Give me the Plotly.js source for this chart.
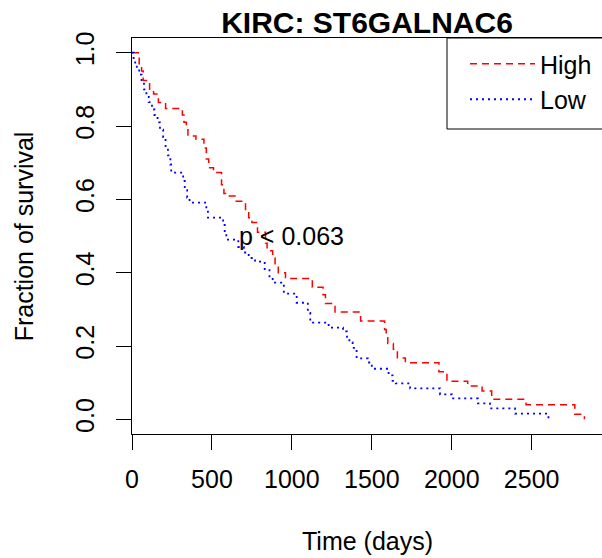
<!DOCTYPE html>
<html>
<head>
<meta charset="utf-8">
<script src="https://cdn.plot.ly/plotly-3.0.1.min.js"></script>
<style>
  html, body { margin: 0; padding: 0; background: #fff; }
  #chart { width: 602px; height: 558px; }
</style>
</head>
<body>
<div id="chart"></div>
<script>
// Kaplan-Meier step data (time in days, fraction surviving)
const highTime = [0, 45, 60, 70, 110, 135, 165, 210, 315, 325, 340, 350, 400, 450, 465, 480, 510, 560, 575, 595, 645, 710, 730, 750, 785, 835, 845, 880, 895, 915, 960, 1128, 1195, 1210, 1270, 1430, 1580, 1590, 1600, 1635, 1660, 1710, 1920, 1970, 2100, 2190, 2250, 2465, 2770, 2830];
const highSurv = [1.0, 0.97, 0.95, 0.924, 0.90, 0.887, 0.864, 0.848, 0.83, 0.81, 0.79, 0.773, 0.764, 0.74, 0.71, 0.686, 0.673, 0.64, 0.616, 0.609, 0.595, 0.57, 0.55, 0.537, 0.51, 0.48, 0.46, 0.44, 0.42, 0.40, 0.384, 0.36, 0.34, 0.316, 0.293, 0.268, 0.245, 0.225, 0.207, 0.191, 0.167, 0.1545, 0.13, 0.104, 0.091, 0.077, 0.0545, 0.04, 0.0136, 0.0];

const lowTime = [0, 10, 20, 30, 45, 60, 75, 90, 105, 125, 140, 160, 175, 195, 210, 225, 240, 245, 320, 330, 345, 360, 465, 475, 570, 580, 590, 665, 700, 730, 770, 830, 860, 880, 950, 1030, 1100, 1115, 1230, 1320, 1345, 1360, 1380, 1405, 1475, 1500, 1605, 1630, 1650, 1740, 1927, 2002, 2164, 2239, 2396, 2605];
const lowSurv = [1.0, 0.985, 0.97, 0.955, 0.94, 0.92, 0.90, 0.885, 0.865, 0.845, 0.83, 0.81, 0.79, 0.77, 0.745, 0.72, 0.695, 0.673, 0.65, 0.625, 0.605, 0.591, 0.57, 0.55, 0.53, 0.51, 0.49, 0.47, 0.455, 0.44, 0.43, 0.41, 0.39, 0.373, 0.343, 0.318, 0.29, 0.264, 0.25, 0.24, 0.225, 0.21, 0.195, 0.166, 0.155, 0.138, 0.12, 0.105, 0.098, 0.0845, 0.068, 0.057, 0.0436, 0.030, 0.0155, 0.0];

const seriesNames = ["High", "Low"];
const xTicks = [0, 500, 1000, 1500, 2000, 2500];
const xTickLabels = ["0", "500", "1000", "1500", "2000", "2500"];
const yTicks = [0, 0.2, 0.4, 0.6, 0.8, 1.0];
const yTickLabels = ["0.0", "0.2", "0.4", "0.6", "0.8", "1.0"];
const chartTitle = "KIRC: ST6GALNAC6";
const xLabel = "Time (days)";
const yLabel = "Fraction of survival";
const pText = "p < 0.063";
const pPos = [1000, 0.5];

const FONT = "Liberation Sans, Arial, Helvetica, sans-serif";

const traces = [
  {
    x: highTime, y: highSurv, name: seriesNames[0], type: "scatter", mode: "lines",
    line: { shape: "hv", color: "#ff0000", width: 1.5, dash: "7px,5px" }
  },
  {
    x: lowTime, y: lowSurv, name: seriesNames[1], type: "scatter", mode: "lines",
    line: { shape: "hv", color: "#0000ff", width: 1.8, dash: "2px,4px" }
  }
];

const layout = {
  width: 602, height: 558,
  margin: { l: 132, r: 0, t: 38, b: 124, pad: 0 },
  paper_bgcolor: "#ffffff", plot_bgcolor: "#ffffff",
  font: { family: FONT, size: 25, color: "#000" },
  title: {
    text: chartTitle, x: 0.5, xref: "paper", xanchor: "center",
    y: 0.96, yref: "container", yanchor: "middle",
    font: { family: FONT, size: 30, weight: "bold", color: "#000" }
  },
  xaxis: {
    range: [0, 2940], autorange: false,
    tickmode: "array", tickvals: xTicks, ticktext: xTickLabels,
    ticks: "outside", ticklen: 15, tickwidth: 1, tickcolor: "#000",
    ticklabelstandoff: 8,
    showline: true, linecolor: "#000", linewidth: 1, mirror: true,
    showgrid: false, zeroline: false,
    tickfont: { family: FONT, size: 25, color: "#000" }
  },
  yaxis: {
    range: [-0.04, 1.04], autorange: false,
    tickmode: "array", tickvals: yTicks, ticktext: yTickLabels,
    ticks: "outside", ticklen: 15, tickwidth: 1, tickcolor: "#000",
    tickangle: -90, ticklabelstandoff: 12,
    showline: true, linecolor: "#000", linewidth: 1, mirror: false,
    showgrid: false, zeroline: false,
    tickfont: { family: FONT, size: 25, color: "#000" }
  },
  showlegend: true,
  legend: {
    x: (465 - 132) / 470, xref: "paper", xanchor: "left",
    y: (434 - 41) / 396, yref: "paper", yanchor: "top",
    borderwidth: 0, bgcolor: "rgba(0,0,0,0)",
    font: { family: FONT, size: 25, color: "#000" },
    itemwidth: 65, tracegroupgap: 0
  },
  shapes: [
    { type: "rect", xref: "paper", yref: "paper",
      x0: (447 - 132) / 470, x1: 1.2, y0: (434 - 129) / 396, y1: 1,
      line: { color: "#000", width: 1 }, fillcolor: "#fff", layer: "above" }
  ],
  annotations: [
    { text: pText, x: pPos[0], y: pPos[1], xref: "x", yref: "y",
      showarrow: false, xanchor: "center", yanchor: "middle",
      font: { family: FONT, size: 25, color: "#000" } },
    { text: xLabel, x: 0.5, y: -0.27, xref: "paper", yref: "paper",
      showarrow: false, xanchor: "center", yanchor: "middle",
      font: { family: FONT, size: 25, color: "#000" } },
    { text: yLabel, x: -0.229, y: 0.5, xref: "paper", yref: "paper",
      showarrow: false, xanchor: "center", yanchor: "middle", textangle: -90,
      font: { family: FONT, size: 25, color: "#000" } }
  ]
};

Plotly.newPlot("chart", traces, layout, { staticPlot: true, displayModeBar: false });
</script>
</body>
</html>
